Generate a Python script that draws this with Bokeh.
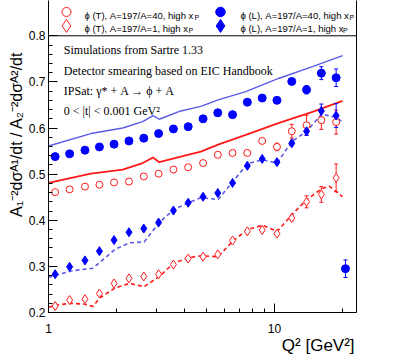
import numpy as np
from bokeh.plotting import figure
from bokeh.models import Range1d, FixedTicker, Label, Span, LinearAxis
from bokeh.embed import file_html
from bokeh.resources import INLINE

# ---------------- data ----------------
Q2 = [1.07, 1.24, 1.45, 1.68, 1.95, 2.27, 2.64, 3.07, 3.57, 4.15,
      4.83, 5.61, 6.52, 7.58, 8.82, 10.25, 11.92, 13.86, 16.11, 18.73]

L_A40 = [0.538, 0.544, 0.552, 0.559, 0.565, 0.572, 0.578, 0.588, 0.598, 0.603,
         0.620, 0.633, 0.629, 0.656, 0.665, 0.660, 0.701, 0.683, 0.719, 0.709]
L_A40_err = [0, 0, 0, 0, 0, 0, 0, 0, 0, 0,
             0, 0, 0, 0, 0, 0, 0.006, 0.009, 0.014, 0.019]

T_A40 = [0.461, 0.467, 0.473, 0.477, 0.482, 0.484, 0.495, 0.501, 0.510, 0.515,
         0.524, 0.542, 0.546, 0.546, 0.572, 0.559, 0.593, 0.606, 0.617, 0.613]
T_A40_err = [0, 0, 0, 0, 0, 0, 0, 0, 0, 0,
             0, 0, 0, 0, 0.005, 0.008, 0.015, 0.022, 0.020, 0.026]

L_A1 = [0.283, 0.299, 0.313, 0.333, 0.357, 0.374, 0.382, 0.395, 0.421, 0.438,
        0.451, 0.459, 0.481, 0.518, 0.533, 0.526, 0.567, 0.593, 0.637, 0.627]
L_A1_err = [0, 0, 0, 0, 0, 0, 0, 0, 0, 0,
            0, 0, 0, 0, 0, 0, 0.005, 0.009, 0.015, 0.026]

T_A1 = [0.214, 0.227, 0.229, 0.241, 0.263, 0.274, 0.278, 0.283, 0.304, 0.317,
        0.321, 0.326, 0.356, 0.376, 0.379, 0.371, 0.405, 0.440, 0.456, 0.492]
T_A1_err = [0, 0, 0, 0, 0, 0, 0, 0, 0, 0,
            0, 0, 0, 0, 0, 0.004, 0.006, 0.013, 0.017, 0.030]

# isolated extra point of the phi (L), A=197/A=40 set
EXTRA_Q2 = [20.6]
EXTRA_VAL = [0.295]
EXTRA_ERR = [0.019]

# model curves
SOLID_Q2 = [1.0, 1.54, 2.13, 2.61, 2.90, 3.09, 3.85, 4.72, 5.63, 7.46, 10.48, 14.72, 20.0]
SOLID_L = [0.561, 0.588, 0.600, 0.614, 0.627, 0.619, 0.637, 0.647, 0.661, 0.679, 0.708, 0.733, 0.757]
SOLID_T = [0.481, 0.501, 0.510, 0.524, 0.536, 0.526, 0.538, 0.549, 0.564, 0.585, 0.611, 0.635, 0.659]

DASH_T_Q2 = [1.0, 1.08, 1.26, 1.45, 1.57, 1.69, 1.97, 2.28, 2.65, 3.09, 3.58, 4.17,
             4.72, 5.63, 6.54, 7.62, 8.85, 10.27, 11.93, 13.9, 16.14, 17.44, 20.0]
DASH_T = [0.211, 0.216, 0.220, 0.218, 0.213, 0.232, 0.253, 0.263, 0.256, 0.278, 0.307, 0.319,
          0.323, 0.321, 0.355, 0.380, 0.389, 0.376, 0.412, 0.445, 0.468, 0.474, 0.451]

DASH_L_Q2 = [1.0, 1.08, 1.26, 1.45, 1.57, 1.69, 1.97, 2.28, 2.65, 3.09, 3.58, 4.17,
             4.72, 5.63, 6.54, 7.62, 8.85, 10.27, 11.93, 13.9, 16.14, 18.81, 20.0]
DASH_L = [0.276, 0.281, 0.290, 0.294, 0.296, 0.309, 0.337, 0.351, 0.353, 0.395, 0.423, 0.438,
          0.449, 0.445, 0.484, 0.523, 0.531, 0.524, 0.571, 0.593, 0.630, 0.623, 0.613]

Y_TICKS = [0.2, 0.3, 0.4, 0.5, 0.6, 0.7, 0.8]
Y_MINOR = [round(0.2 + 0.02 * i, 2) for i in range(31)]
X_TICKS = [1, 10]
X_MINOR = [2, 3, 4, 5, 6, 7, 8, 9, 20]

LEGEND_LABELS = ["\u03d5 (T), A=197/A=40, high x", "\u03d5 (L), A=197/A=40, high x",
                 "\u03d5 (T), A=197/A=1, high x", "\u03d5 (L), A=197/A=1, high x"]
NOTES = ["Simulations from Sartre 1.33",
         "Detector smearing based on EIC Handbook",
         "IPSat: \u03b3* + A \u2192 \u03d5 + A",
         "0 < |t| < 0.001 GeV\u00b2"]
YLAB = "A\u2081\u207b\u00b2d\u03c3\u1d2c\u00b9/dt / A\u2082\u207b\u00b2d\u03c3\u1d2c\u00b2/dt"
XLAB = "Q\u00b2 [GeV\u00b2]"

RED = "#ff1a1a"
BLUE = "#0000ff"
BLUE_LINE = "#5a5ae8"
SANS = "Liberation Sans"
SERIF = "Liberation Serif"

# ---------------- geometry (figure pixels) ----------------
W, H = 395, 357
FRAME_L, FRAME_R = 48, 356
FRAME_T, FRAME_B = 0, 313
X_END = 23.05
PX_PER_UNIT = 277.6 / 0.6          # 0.2 .. 0.8 spans 277.6 px
Y_TOP = 0.2 + (FRAME_B - FRAME_T) / PX_PER_UNIT


def fx(px):
    return 10 ** ((px - FRAME_L) / (FRAME_R - FRAME_L) * np.log10(X_END))


def fy(py):
    return 0.2 + (FRAME_B - py) / PX_PER_UNIT


p = figure(x_axis_type="log", x_range=Range1d(1, X_END), y_range=Range1d(0.2, Y_TOP),
           width=W, height=H, min_border_left=FRAME_L, min_border_right=W - FRAME_R,
           min_border_top=FRAME_T, min_border_bottom=H - FRAME_B, toolbar_location=None,
           output_backend="svg")
p.xgrid.visible = False
p.ygrid.visible = False
p.outline_line_color = None
p.background_fill_color = "white"
p.border_fill_color = "white"

for ax in (p.xaxis[0], p.yaxis[0]):
    ax.axis_line_color = "black"
    ax.major_tick_line_color = "black"
    ax.minor_tick_line_color = "black"
    ax.major_tick_in = 9
    ax.major_tick_out = 0
    ax.minor_tick_in = 4
    ax.minor_tick_out = 0
    ax.major_label_text_font = SANS
    ax.major_label_text_font_size = "12px"
    ax.major_label_text_color = "black"
    ax.axis_label_text_font = SANS
    ax.axis_label_text_font_style = "normal"
    ax.axis_label_text_color = "black"

NB = "\u00a0"
p.xaxis.ticker = FixedTicker(ticks=X_TICKS, minor_ticks=X_MINOR)
p.xaxis.major_label_overrides = {1: "1", 10: "10"}
p.xaxis.major_label_standoff = 11
p.xaxis.axis_label_standoff = 0
p.xaxis.axis_label_text_font_size = "17px"
p.xaxis.axis_label = NB * 49 + XLAB
p.yaxis.ticker = FixedTicker(ticks=Y_TICKS, minor_ticks=Y_MINOR)
p.yaxis.major_label_standoff = 3
p.yaxis.axis_label_standoff = 1
p.yaxis.axis_label_text_font_size = "16px"
p.yaxis.axis_label = NB * 10 + YLAB

# right frame side and the line separating the legend from the plot
r_ax = LinearAxis(ticker=FixedTicker(ticks=[]), major_label_text_font_size="0px",
                  major_tick_line_color=None, minor_tick_line_color=None,
                  major_tick_out=0, major_label_standoff=0, axis_line_color="black")
p.add_layout(r_ax, "right")
p.add_layout(Span(location=0.8, dimension="width", line_color="black", line_width=1))

# curves
p.line(SOLID_Q2, SOLID_L, line_color=BLUE_LINE, line_width=1.4)
p.line(SOLID_Q2, SOLID_T, line_color=RED, line_width=1.8)
p.line(DASH_L_Q2, DASH_L, line_color=BLUE_LINE, line_width=1.6, line_dash="4 3")
p.line(DASH_T_Q2, DASH_T, line_color=RED, line_width=1.6, line_dash="4 3")


def errbars(xs, ys, es, color):
    x = [a for a, e in zip(xs, es) if e > 0]
    lo = [b - e for b, e in zip(ys, es) if e > 0]
    hi = [b + e for b, e in zip(ys, es) if e > 0]
    p.segment(x0=x, y0=lo, x1=x, y1=hi, line_color=color, line_width=1)
    p.scatter(x, lo, marker="dash", size=4, line_color=color, line_width=1)
    p.scatter(x, hi, marker="dash", size=4, line_color=color, line_width=1)


errbars(Q2, T_A40, T_A40_err, RED)
errbars(Q2, T_A1, T_A1_err, RED)
errbars(Q2, L_A40, L_A40_err, BLUE)
errbars(Q2, L_A1, L_A1_err, BLUE)
errbars(EXTRA_Q2, EXTRA_VAL, EXTRA_ERR, BLUE)

p.scatter(Q2, T_A40, marker="circle", size=7, fill_color="white", line_color=RED, line_width=1)
p.scatter(Q2, T_A1, marker="diamond", size=9, fill_color="white", line_color=RED, line_width=1)
p.scatter(Q2, L_A40, marker="circle", size=8, fill_color=BLUE, line_color=BLUE)
p.scatter(EXTRA_Q2, EXTRA_VAL, marker="circle", size=8, fill_color=BLUE, line_color=BLUE)
p.scatter(Q2, L_A1, marker="diamond", size=9, fill_color=BLUE, line_color=BLUE)

# ---------------- legend (above the 0.8 line) ----------------
p.scatter([fx(66)], [fy(11.5)], marker="circle", size=9, fill_color="white", line_color=RED, line_width=1)
p.scatter([fx(220)], [fy(11.5)], marker="circle", size=9.5, fill_color=BLUE, line_color=BLUE)
p.scatter([fx(66)], [fy(25.5)], marker="diamond", size=13, fill_color="white", line_color=RED, line_width=1)
p.scatter([fx(220)], [fy(25.5)], marker="diamond", size=13, fill_color=BLUE, line_color=BLUE)

leg_pos = [(84, 15.5), (240, 15.5), (84, 29.0), (240, 29.0)]
sub_pos = [(194, 17.5), (349, 17.5), (188, 31.0), (342.5, 31.0)]
for txt, (px, py) in zip(LEGEND_LABELS, leg_pos):
    p.add_layout(Label(x=px - FRAME_L, y=FRAME_B - py, x_units="screen", y_units="screen",
                       text=txt, text_font=SANS, text_font_size="9.5px", text_color="black",
                       text_baseline="alphabetic", text_align="left"))
for (px, py) in sub_pos:
    p.add_layout(Label(x=px - FRAME_L, y=FRAME_B - py, x_units="screen", y_units="screen",
                       text="P", text_font=SANS, text_font_size="7px", text_color="black",
                       text_baseline="alphabetic", text_align="left"))

# ---------------- notes ----------------
for txt, py in zip(NOTES, [50.7, 71, 91, 111]):
    p.add_layout(Label(x=63.3 - FRAME_L, y=FRAME_B - py, x_units="screen", y_units="screen",
                       text=txt, text_font=SERIF, text_font_size="12px", text_color="black",
                       text_baseline="alphabetic", text_align="left"))

open("out.html", "w").write(file_html(p, INLINE))
